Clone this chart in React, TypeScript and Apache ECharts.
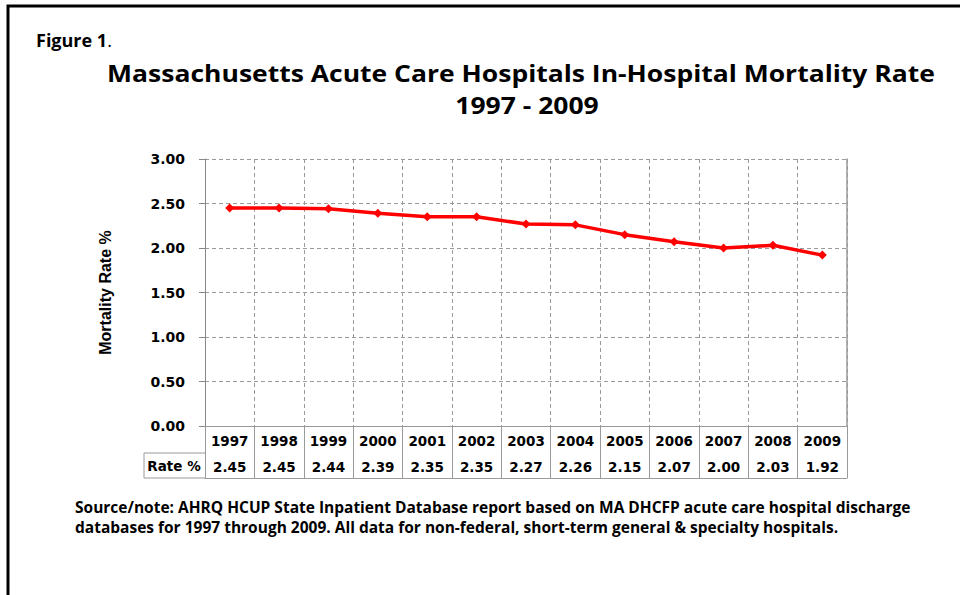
import React, { useEffect, useRef } from "react";
import * as echarts from "echarts";

const years = ["1997","1998","1999","2000","2001","2002","2003","2004","2005","2006","2007","2008","2009"];
const rates = [2.45, 2.45, 2.44, 2.39, 2.35, 2.35, 2.27, 2.26, 2.15, 2.07, 2.00, 2.03, 1.92];
const yTicks = { min: 0, max: 3, interval: 0.5 };
const titleLine1 = "Massachusetts Acute Care Hospitals In-Hospital Mortality Rate";
const titleLine2 = "1997 - 2009";
const yName = "Mortality Rate %";
const rowLabel = "Rate %";
const note1 = "Source/note: AHRQ HCUP State Inpatient Database report based on MA DHCFP acute care hospital discharge";
const note2 = "databases for 1997 through 2009. All data for non-federal, short-term general & specialty hospitals.";

const GRID = "#9a9a9a";
const TF = "DejaVu Sans, Verdana, sans-serif";
const CF = "Open Sans, Lato, sans-serif";

export default function App() {
  const ref = useRef<HTMLDivElement>(null);
  useEffect(() => {
    const chart = echarts.init(ref.current!, undefined, { renderer: "svg" });
    const left = 205, right = 847, top = 159, bottom = 426;
    chart.setOption({
      animation: false,
      backgroundColor: "#ffffff",
      grid: { left, right: 960 - right, top, bottom: 595 - bottom, containLabel: false },
      xAxis: [
        {
          type: "category",
          data: years,
          boundaryGap: true,
          position: "bottom",
          axisLine: { show: true, lineStyle: { color: "#888", width: 1 } },
          axisTick: { show: true, length: 52, interval: 0, lineStyle: { color: GRID } },
          splitLine: { show: true, interval: 0, lineStyle: { color: GRID, type: [4, 3] } },
          axisLabel: { interval: 0, margin: 8, color: "#000", fontFamily: TF, fontWeight: "bold", fontSize: 13.5 },
        },
        {
          type: "category",
          data: rates.map((r) => r.toFixed(2)),
          position: "bottom",
          offset: 27,
          axisLine: { show: true, lineStyle: { color: GRID, width: 1 } },
          axisTick: { show: false },
          splitLine: { show: false },
          axisLabel: { interval: 0, margin: 7, color: "#000", fontFamily: TF, fontWeight: "bold", fontSize: 13.5 },
        },
        {
          type: "category",
          data: years,
          position: "bottom",
          offset: 52,
          axisLine: { show: true, lineStyle: { color: GRID, width: 1 } },
          axisTick: { show: false },
          axisLabel: { show: false },
          splitLine: { show: false },
        },
      ],
      yAxis: [
        {
          type: "value",
          min: yTicks.min,
          max: yTicks.max,
          interval: yTicks.interval,
          name: yName,
          nameLocation: "middle",
          nameRotate: 90,
          nameGap: 92,
          nameTextStyle: { color: "#000", fontFamily: "Liberation Sans Narrow, Liberation Sans, sans-serif", fontWeight: "bold", fontSize: 16 },
          axisLine: { show: true, lineStyle: { color: "#888", width: 1 } },
          axisTick: { show: true, length: 6, lineStyle: { color: "#888" } },
          splitLine: { show: true, lineStyle: { color: GRID, type: [4, 3] } },
          axisLabel: { margin: 20, color: "#000", fontFamily: TF, fontWeight: "bold", fontSize: 14, formatter: (v: number) => v.toFixed(2) },
        },
        {
          type: "value",
          min: yTicks.min,
          max: yTicks.max,
          interval: yTicks.interval,
          position: "right",
          axisLine: { show: true, lineStyle: { color: GRID, width: 1.5 } },
          axisTick: { show: false },
          axisLabel: { show: false },
          splitLine: { show: false },
        },
      ],
      series: [
        {
          type: "line",
          data: rates,
          xAxisIndex: 0,
          yAxisIndex: 0,
          symbol: "diamond",
          symbolSize: 9,
          itemStyle: { color: "#ff0000" },
          lineStyle: { color: "#ff0000", width: 3.5 },
        },
      ],
      graphic: [
        { type: "rect", shape: { x: 8, y: 6, width: 1200, height: 900 }, style: { fill: "none", stroke: "#000", lineWidth: 3 }, silent: true },
        {
          type: "text", x: 36, y: 40,
          style: {
            text: "{b|Figure 1}{n|.}", verticalAlign: "middle",
            rich: {
              b: { fontFamily: CF, fontWeight: "bold", fontSize: 18, fill: "#000" },
              n: { fontFamily: CF, fontWeight: "normal", fontSize: 18, fill: "#000" },
            },
          },
        },
        { type: "text", x: 521, y: 73, scaleY: 0.88, style: { text: titleLine1, fontFamily: CF, fontWeight: "bold", fontSize: 26.5, lineHeight: 28, fill: "#000", align: "center", verticalAlign: "middle" } },
        { type: "text", x: 527, y: 105, scaleY: 0.88, style: { text: titleLine2, fontFamily: CF, fontWeight: "bold", fontSize: 26.5, lineHeight: 28, fill: "#000", align: "center", verticalAlign: "middle" } },
        { type: "line", shape: { x1: 144, y1: 453, x2: left, y2: 453 }, style: { stroke: GRID, lineWidth: 1 } },
        { type: "line", shape: { x1: 144, y1: 478, x2: left, y2: 478 }, style: { stroke: GRID, lineWidth: 1 } },
        { type: "line", shape: { x1: 144, y1: 453, x2: 144, y2: 478 }, style: { stroke: GRID, lineWidth: 1 } },
        { type: "text", x: 174, y: 466, style: { text: rowLabel, fontFamily: TF, fontWeight: "bold", fontSize: 13.5, fill: "#000", align: "center", verticalAlign: "middle" } },
        { type: "text", x: 75, y: 507, style: { text: note1, fontFamily: CF, fontWeight: "bold", fontSize: 15.5, lineHeight: 18, fill: "#000", verticalAlign: "middle" } },
        { type: "text", x: 75, y: 527, style: { text: note2, fontFamily: CF, fontWeight: "bold", fontSize: 15.5, lineHeight: 18, fill: "#000", verticalAlign: "middle" } },
      ],
    });
    return () => chart.dispose();
  }, []);
  return <div ref={ref} style={{ position: "absolute", left: 0, top: 0, width: 960, height: 595 }} />;
}
